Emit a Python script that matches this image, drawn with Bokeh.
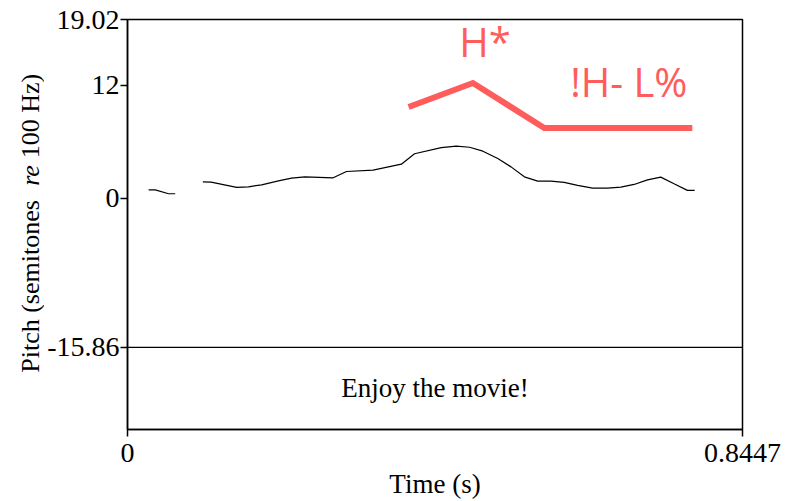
from bokeh.plotting import figure
from bokeh.layouts import row, column
from bokeh.models import Range1d, FixedTicker, Span, Label
from bokeh.embed import file_html
from bokeh.resources import INLINE

# ---------------- data ----------------
x_ticks = [0.0, 0.8447]
x_tick_labels = ["0", "0.8447"]
y_ticks = [-15.86, 0.0, 12.0, 19.02]
y_tick_labels = ["-15.86", "0", "12", "19.02"]
x_start, x_end = 0.0, 0.8447
y_bottom, y_top = -24.6, 19.02
tier_boundary = -15.86

# pitch track (semitones re 100 Hz), two voiced stretches
seg1_time = [0.0290, 0.0381, 0.0565, 0.0655]
seg1_pitch = [0.90, 0.90, 0.48, 0.48]
seg2_time = [0.1035, 0.1148, 0.1500, 0.1661, 0.1843, 0.2072, 0.2254, 0.2437,
             0.2825, 0.3008, 0.3373, 0.3761, 0.3943, 0.4309, 0.4515, 0.4698,
             0.4881, 0.5086, 0.5268, 0.5451, 0.5634, 0.5816, 0.5998, 0.6182,
             0.6388, 0.6593, 0.6776, 0.6958, 0.7142, 0.7324, 0.7507, 0.7690,
             0.7790]
seg2_pitch = [1.75, 1.72, 1.16, 1.22, 1.43, 1.86, 2.14, 2.28,
              2.18, 2.85, 2.99, 3.63, 4.74, 5.38, 5.54, 5.43,
              5.01, 4.23, 3.34, 2.28, 1.83, 1.83, 1.69, 1.37,
              1.08, 1.08, 1.19, 1.47, 1.96, 2.25, 1.54, 0.84,
              0.84]

# stylised tonal contour
stylized_time = [0.3861, 0.4744, 0.5725, 0.7758]
stylized_pitch = [9.71, 12.26, 7.48, 7.48]

tone_labels = ["H*", "!H- L%"]
tone_label_time = [0.4912, 0.6885]
tone_label_pitch = [16.68, 12.44]

utterance = "Enjoy the movie!"
x_title = "Time (s)"
# y title pieces, top to bottom on the page, with their font styles
y_title_parts = ["100 Hz)", "re", "Pitch (semitones"]
y_title_styles = ["normal", "italic", "normal"]

# ---------------- styles / layout ----------------
SERIF = "Liberation Serif"
RED = "#ff5c5c"
TITLE_W = 44
TOTAL_W, TOTAL_H = 789, 501
# heights of the pieces of the left title column (spacer, 3 texts, spacer)
strip_heights = [70, 91, 28, 194, 118]


def base_strip(w, h, with_axis):
    f = figure(width=w, height=h, title=None,
               x_range=Range1d(0, 1), y_range=Range1d(0, 1),
               x_axis_location=None,
               y_axis_location="left" if with_axis else None,
               output_backend="svg", toolbar_location=None,
               min_border=0, min_border_left=(w - 1) if with_axis else 0,
               min_border_right=0, min_border_top=0, min_border_bottom=0)
    f.xgrid.visible = False
    f.ygrid.visible = False
    f.outline_line_color = None
    f.background_fill_color = "white"
    f.border_fill_color = "white"
    return f


def title_strip(h, text, style):
    f = base_strip(TITLE_W, h, True)
    ax = f.yaxis[0]
    ax.ticker = FixedTicker(ticks=[])
    ax.major_tick_out = 0
    ax.major_tick_in = 0
    ax.major_tick_line_color = None
    ax.minor_tick_line_color = None
    ax.axis_line_color = None
    ax.major_label_standoff = 0
    ax.axis_label = text
    ax.axis_label_text_font = SERIF
    ax.axis_label_text_font_size = "26px"
    ax.axis_label_text_font_style = style
    ax.axis_label_text_color = "black"
    ax.axis_label_standoff = -1
    return f


left_col = column(
    base_strip(TITLE_W, strip_heights[0], False),
    title_strip(strip_heights[1], y_title_parts[0], y_title_styles[0]),
    title_strip(strip_heights[2], y_title_parts[1], y_title_styles[1]),
    title_strip(strip_heights[3], y_title_parts[2], y_title_styles[2]),
    base_strip(TITLE_W, strip_heights[4], False),
    spacing=0)

# ---------------- main plot ----------------
p = figure(width=TOTAL_W - TITLE_W, height=TOTAL_H, title=None,
           x_range=Range1d(x_start, x_end), y_range=Range1d(y_bottom, y_top),
           output_backend="svg", toolbar_location=None,
           min_border_left=125 - TITLE_W, min_border_right=TOTAL_W - 742,
           min_border_top=19, min_border_bottom=TOTAL_H - 430)

p.xgrid.visible = False
p.ygrid.visible = False
p.background_fill_color = "white"
p.border_fill_color = "white"
p.outline_line_color = "black"
p.outline_line_width = 1.5
p.outline_line_alpha = 1.0

for ax, ticks, labels in ((p.xaxis[0], x_ticks, x_tick_labels),
                          (p.yaxis[0], y_ticks, y_tick_labels)):
    ax.ticker = FixedTicker(ticks=ticks)
    ax.major_label_overrides = {tk: lb for tk, lb in zip(ticks, labels)}
    ax.minor_tick_line_color = None
    ax.major_tick_in = 0
    ax.major_tick_out = 7
    ax.major_tick_line_width = 1.5
    ax.major_tick_line_color = "black"
    ax.axis_line_color = "black"
    ax.axis_line_width = 1.5
    ax.major_label_text_font = SERIF
    ax.major_label_text_font_size = "28px"
    ax.major_label_text_color = "black"

p.xaxis.major_label_standoff = 7
p.yaxis.major_label_standoff = 1
p.xaxis.axis_label = x_title
p.xaxis.axis_label_text_font = SERIF
p.xaxis.axis_label_text_font_size = "27px"
p.xaxis.axis_label_text_font_style = "normal"
p.xaxis.axis_label_text_color = "black"
p.xaxis.axis_label_standoff = 4

# tier boundary
p.add_layout(Span(location=tier_boundary, dimension="width",
                  line_color="black", line_width=1.2))

# pitch contour
p.line(seg1_time, seg1_pitch, line_color="black", line_width=1.2)
p.line(seg2_time, seg2_pitch, line_color="black", line_width=1.2)

# stylised contour
p.line(stylized_time, stylized_pitch, line_color=RED, line_width=6,
       line_join="miter")

for txt, tt, v in zip(tone_labels, tone_label_time, tone_label_pitch):
    p.add_layout(Label(x=tt, y=v, text=txt, text_font="Open Sans",
                       text_font_size="40px", text_color=RED,
                       text_align="center", text_baseline="middle"))

# tier text
p.add_layout(Label(x=(x_start + x_end) / 2, y=(tier_boundary + y_bottom) / 2,
                   text=utterance, text_font=SERIF, text_font_size="27px",
                   text_color="black", text_align="center",
                   text_baseline="middle"))

layout = row(left_col, p, spacing=0)
open("out.html", "w").write(file_html(layout, INLINE))
